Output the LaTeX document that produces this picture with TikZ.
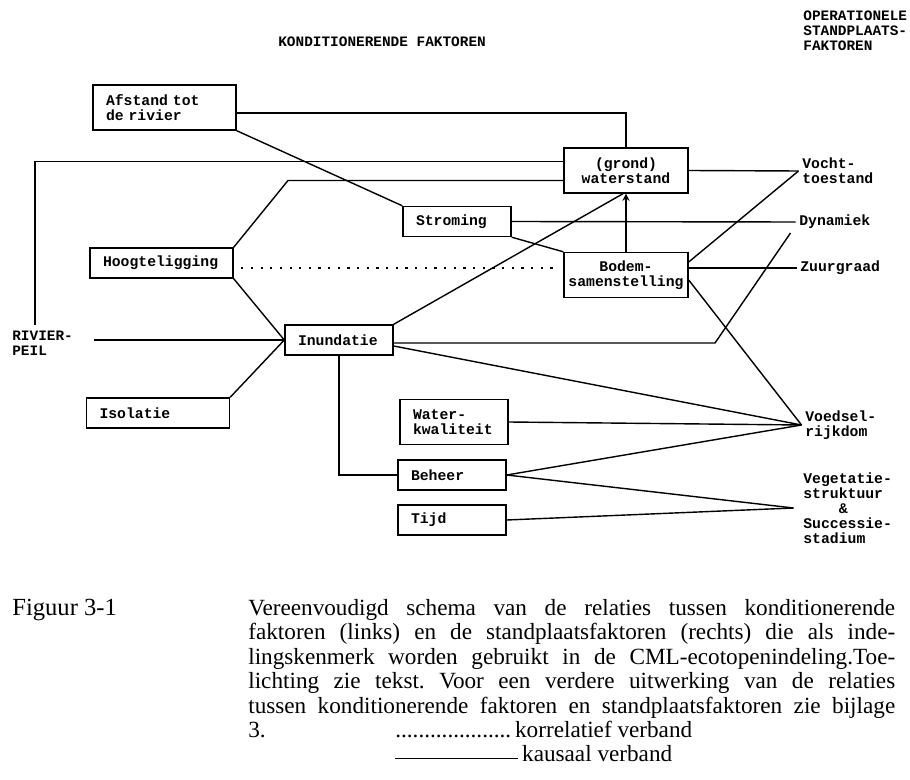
\documentclass[tikz,border=0pt]{standalone}
\usepackage{fontspec}
\setmainfont{Liberation Serif}
\newfontfamily\typefont{Liberation Mono}
\usepackage{tikz}
\usetikzlibrary{shapes.geometric, arrows}
\tikzstyle{factor} = [rectangle, 
draw=black, 
thick,
minimum height=0.6cm,
inner xsep=0.26cm,
inner ysep=2pt,
text width=1.64cm,
align=left,
font=\typefont\bfseries\fontsize{8.4}{8.5}\selectfont]
\tikzstyle{wide} = [text width=2.34cm]
\tikzstyle{mid} = [text width=2.32cm, inner xsep=0.08cm, align=center]
\tikzstyle{tall} = [minimum height=0.9cm]
\tikzstyle{sitefactor} = [anchor=west, 
inner xsep=2pt, 
inner ysep=0pt, 
align=left,
font=\typefont\bfseries\fontsize{8.4}{8.5}\selectfont]
\tikzstyle{heading} = [inner sep=0pt, 
align=left,
font=\typefont\bfseries\fontsize{8.2}{8.5}\selectfont]
\tikzstyle{caption} = [anchor=north west, 
inner sep=0pt, 
text width=12.94cm, 
align=justify,
font=\fontsize{13.2}{13.9}\selectfont\frenchspacing]
\tikzstyle{link} = [thick]
\tikzstyle{arrow} = [thick,->,>=stealth]
\tikzstyle{corr} = [very thick, dash pattern=on 1.3pt off 4.2pt]

\begin{document}
\begin{tikzpicture}[x=0.02cm, y=-0.02cm]
\useasboundingbox (0,0) rectangle (910,780);

% headings
\node (konhead) [heading, anchor=west] at (278,42) {KONDITIONERENDE FAKTOREN};
\node (ophead) [heading, anchor=north west] at (803,11) {OPERATIONELE\\STANDPLAATS-\\FAKTOREN};

% konditionerende faktoren
\node (afstand) [factor, wide, tall] at (164.5,107.5) {Afstand tot\\de rivier};
\node (grond) [factor, mid, tall] at (626,170.5) {(grond)\\waterstand};
\node (stroming) [factor] at (457,221.5) {Stroming};
\node (hoog) [factor, wide] at (161.5,263) {Hoogteligging};
\node (bodem) [factor, mid, tall] at (626,275) {Bodem-\\samenstelling};
\node (inundatie) [factor] at (339,340) {Inundatie};
\node (isolatie) [factor, wide] at (158,413) {Isolatie};
\node (waterk) [factor, tall] at (454,422) {Water-\\kwaliteit};
\node (beheer) [factor] at (452,475) {Beheer};
\node (tijd) [factor] at (452,520) {Tijd};
\node (rivier) [heading, anchor=north west] at (12,331) {RIVIER-\\PEIL};

% standplaatsfaktoren
\node (vocht) [sitefactor] at (798.5,171) {Vocht-\\toestand};
\node (dynamiek) [sitefactor] at (795.5,222) {Dynamiek};
\node (zuur) [sitefactor] at (796.5,268) {Zuurgraad};
\node (voedsel) [sitefactor] at (801.5,425) {Voedsel-\\rijkdom};
\node (veget) [sitefactor] at (799.5,508) {Vegetatie-\\struktuur\\\hphantom{xxxx}\&\\Successie-\\stadium};

% kausale verbanden
\draw [link] ([yshift=-0.11cm]afstand.east) -| (grond.north);
\draw [link] (afstand.south east) -- (stroming.north west);
\draw [link, shorten <=0.12cm] ([xshift=-0.15cm]rivier.north) |- ([yshift=0.18cm]grond.west);
\draw [link] (hoog.north east) -- (288,180.5) -- ([yshift=-0.2cm]grond.west);
\draw [link] (hoog.south east) -- (inundatie.west);
\draw [link, shorten <=0.42cm] (rivier.east |- inundatie.west) -- (inundatie.west);
\draw [link] (isolatie.north east) -- (inundatie.west);
\draw [link] (inundatie.north east) -- ([xshift=-0.06cm]grond.south);
\draw [arrow] (bodem.north) -- (grond.south);
\draw [link] (stroming.east) -- (dynamiek.west);
\draw [link] (stroming.south east) -- (bodem.north west);
\draw [link] (grond.east) -- (vocht.west);
\draw [link] ([yshift=0.26cm]bodem.east) -- (vocht.west);
\draw [link] (bodem.east |- zuur.west) -- (zuur.west);
\draw [link] ([yshift=-0.1cm]bodem.east) -- (voedsel.west);
\draw [link] ([yshift=-0.06cm]inundatie.east) -- (715,343) -- ([xshift=-0.1cm,yshift=-0.22cm]dynamiek.west);
\draw [link] ([yshift=-0.12cm]inundatie.east) -- (voedsel.west);
\draw [link] (inundatie.south) |- (beheer.west);
\draw [link] (waterk.east) -- (voedsel.west);
\draw [link] (beheer.east) -- (voedsel.west);
\draw [link] (beheer.east) -- ([xshift=-0.12cm]veget.west);
\draw [link] (tijd.east) -- ([xshift=-0.12cm]veget.west);

% korrelatief verband
\draw [corr, shorten <=0.15cm, shorten >=0.15cm] ([yshift=-0.1cm]hoog.east) -- ([yshift=-0.1cm]hoog.east -| bodem.west);

% onderschrift
\node (figuur) [anchor=base west, inner sep=0pt, font=\fontsize{14}{14}\selectfont] at (12,616) {Figuur 3-1};
\node (caption) [caption] at (248,599) {Vereenvoudigd schema van de relaties tussen konditionerende\linebreak
faktoren (links) en de standplaatsfaktoren (rechts) die als inde-\linebreak
lingskenmerk worden gebruikt in de CML-ecotopenindeling.Toe-\linebreak
lichting zie tekst. Voor een verdere uitwerking van de relaties\linebreak
tussen konditionerende faktoren en standplaatsfaktoren zie bijlage\linebreak
\makebox[2.94cm][l]{3.}....................\,korrelatief verband\\
\hspace*{2.94cm}\rule[0.3ex]{2.46cm}{0.6pt}\,kausaal verband};
\end{tikzpicture}
\end{document}
